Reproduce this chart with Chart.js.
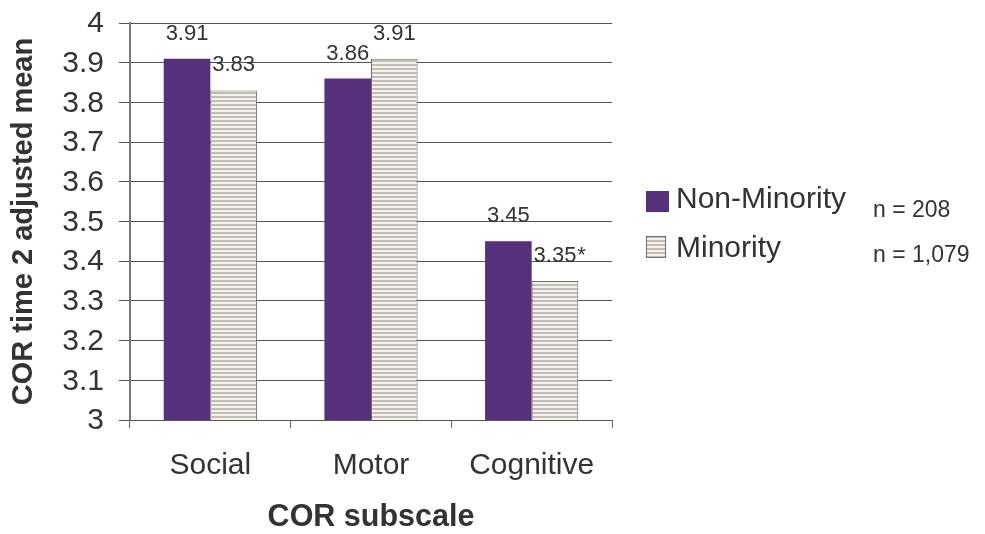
<!DOCTYPE html>
<html>
<head>
<meta charset="utf-8">
<script src="https://cdn.jsdelivr.net/npm/chart.js@4/dist/chart.umd.min.js"></script>
<style>
  html, body { margin: 0; padding: 0; background: #ffffff; }
  canvas { display: block; }
</style>
</head>
<body>
<canvas id="chart" width="985" height="534"></canvas>
<script>
// COR time 2 adjusted means by subscale and group
const categories = ['Social', 'Motor', 'Cognitive'];
const seriesNames = ['Non-Minority', 'Minority'];
const nonMinorityMeans = [3.91, 3.86, 3.45];
const minorityMeans = [3.83, 3.91, 3.35];
const minorityMarks = ['', '', '*'];          // significance marker per subscale
const sampleSizes = ['n = 208', 'n = 1,079'];
const yTickLabels = ['3', '3.1', '3.2', '3.3', '3.4', '3.5', '3.6', '3.7', '3.8', '3.9', '4'];

const FONT = '"Liberation Sans", Arial, sans-serif';
const TEXT = '#333333';
const PURPLE = '#57307b';

const canvas = document.getElementById('chart');
const ctx = canvas.getContext('2d');

// horizontal stripe fill for the Minority bars
function stripeFill() {
  const tile = document.createElement('canvas');
  tile.width = 4; tile.height = 4;
  const g = tile.getContext('2d');
  g.fillStyle = '#f5f3f0';
  g.fillRect(0, 0, 4, 4);
  g.fillStyle = '#c4bdb5';
  g.fillRect(0, 0, 4, 2);
  return ctx.createPattern(tile, 'repeat');
}
const STRIPES = stripeFill();

// value labels above each bar, with an optional marker after the number
const valueLabels = {
  id: 'valueLabels',
  afterDatasetsDraw(chart) {
    const c = chart.ctx;
    c.save();
    c.font = '22px ' + FONT;
    c.fillStyle = TEXT;
    c.textBaseline = 'alphabetic';
    chart.data.datasets.forEach((ds, di) => {
      chart.getDatasetMeta(di).data.forEach((bar, i) => {
        const txt = ds.data[i].toFixed(2);
        const base = bar.y - 19;
        c.textAlign = 'center';
        c.fillText(txt, bar.x, base);
        const mark = ds.marks ? ds.marks[i] : '';
        if (mark) {
          const w = c.measureText(txt).width;
          c.textAlign = 'left';
          c.fillText(mark, bar.x + w / 2 + 1, base);
        }
      });
    });
    c.restore();
  }
};

// legend with group sizes on the right of the plot
const sideLegend = {
  id: 'sideLegend',
  afterDraw(chart) {
    const c = chart.ctx;
    const ds = chart.data.datasets;
    c.save();
    // Non-Minority swatch
    c.fillStyle = ds[0].backgroundColor;
    c.fillRect(646, 191, 23, 21);
    // Minority swatch
    c.fillStyle = ds[1].backgroundColor;
    c.fillRect(646, 236, 20, 22);
    c.strokeStyle = ds[1].borderColor;
    c.lineWidth = 1;
    c.strokeRect(646.5, 236.5, 19, 21);

    c.fillStyle = TEXT;
    c.textAlign = 'left';
    c.textBaseline = 'alphabetic';
    c.font = '30px ' + FONT;
    c.fillText(ds[0].label, 676, 208);
    c.fillText(ds[1].label, 676, 257);
    c.font = '23px ' + FONT;
    c.fillText(sampleSizes[0], 873, 217);
    c.fillText(sampleSizes[1], 873, 262);
    c.restore();
  }
};

new Chart(canvas, {
  type: 'bar',
  data: {
    labels: categories,
    datasets: [
      {
        label: seriesNames[0],
        data: nonMinorityMeans,
        backgroundColor: PURPLE,
        borderWidth: 0
      },
      {
        label: seriesNames[1],
        data: minorityMeans,
        marks: minorityMarks,
        backgroundColor: STRIPES,
        borderColor: '#6e6e6e',
        borderWidth: 1
      }
    ]
  },
  options: {
    responsive: false,
    maintainAspectRatio: false,
    animation: false,
    events: [],
    layout: { padding: { left: 0, top: 23, right: 373, bottom: 0 } },
    datasets: { bar: { categoryPercentage: 0.58, barPercentage: 1.0 } },
    plugins: {
      legend: { display: false },
      tooltip: { enabled: false },
      title: { display: false }
    },
    scales: {
      x: {
        offset: true,
        grid: {
          offset: true,
          drawOnChartArea: false,
          drawTicks: true,
          tickLength: 8,
          tickColor: '#666666',
          lineWidth: 1
        },
        border: { display: true, color: '#555555', width: 1 },
        ticks: {
          color: TEXT,
          font: { family: FONT, size: 30 },
          padding: 20,
          maxRotation: 0,
          autoSkip: false
        },
        title: {
          display: true,
          text: 'COR subscale',
          color: TEXT,
          font: { family: FONT, size: 30.5, weight: 'bold', lineHeight: 1.1 },
          padding: { top: 0, bottom: 0 }
        },
        afterFit(scale) { scale.height = 114; }
      },
      y: {
        min: 3,
        max: 4,
        ticks: {
          stepSize: 0.1,
          autoSkip: false,
          color: TEXT,
          font: { family: FONT, size: 30 },
          padding: 15,
          labelOffset: 1,
          callback: (v, i) => yTickLabels[i]
        },
        grid: {
          color: '#555555',
          lineWidth: 1,
          drawTicks: true,
          tickLength: 11,
          tickColor: '#555555'
        },
        border: { display: true, color: '#777777', width: 2 },
        title: {
          display: true,
          text: 'COR time 2 adjusted mean',
          color: TEXT,
          font: { family: FONT, size: 29, weight: 'bold' },
          padding: { top: 7, bottom: 0 }
        },
        afterFit(scale) {
          scale.width = 130;
          // only half a label of room is needed above the top tick
          scale.paddingTop = 18;
          scale.paddingBottom = 18;
        }
      }
    }
  },
  plugins: [valueLabels, sideLegend]
});
</script>
</body>
</html>
